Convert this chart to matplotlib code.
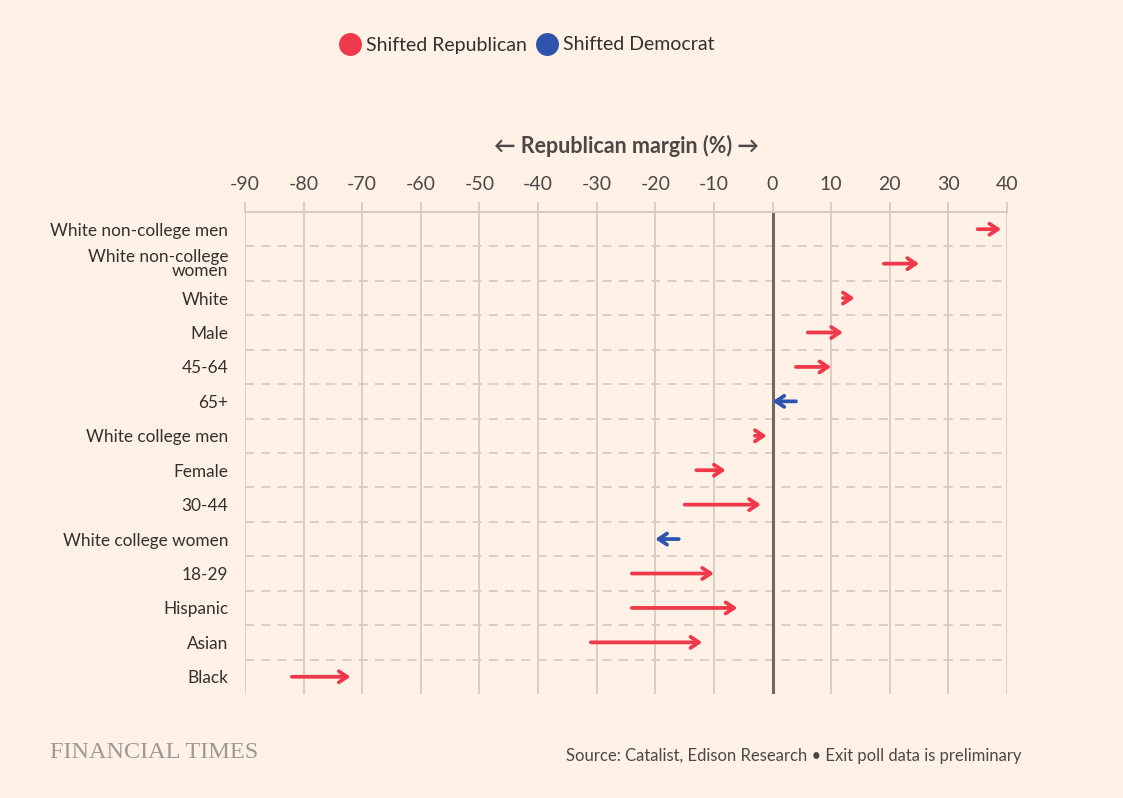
"""
plot.py
Exit poll shift by demographic group (FT style arrow chart).
"""
import matplotlib
matplotlib.use("Agg")
import matplotlib.pyplot as plt
from matplotlib.lines import Line2D

# ── data ──────────────────────────────────────────────────────────────
groups = ["White non-college men", "White non-college\nwomen", "White", "Male",
          "45-64", "65+", "White college men", "Female", "30-44",
          "White college women", "18-29", "Hispanic", "Asian", "Black"]
margin_2020 = [35, 19, 12, 6, 4, 4, -3, -13, -15, -16, -24, -24, -31, -82]
margin_2024 = [39, 25, 14, 12, 10, 0, -1, -8, -2, -20, -10, -6, -12, -72]
x_ticks = list(range(-90, 41, 10))

BG = "#FFF1E5"
RED = "#F0384B"
BLUE = "#2D53AC"
GRID = "#D6CCC0"
TEXT = "#33302E"

plt.rcParams["font.family"] = ["Lato", "DejaVu Sans"]

fig = plt.figure(figsize=(11.23, 7.98), dpi=100, facecolor=BG)
W, H = 1123, 798
ax = fig.add_axes([245 / W, 1 - 694 / H, (1007 - 245) / W, (694 - 212) / H])
ax.set_facecolor(BG)

n = len(groups)
ax.set_xlim(-90, 40)
ax.set_ylim(n - 0.5, -0.5)

# grid: vertical solid, horizontal dashed separators
for x in x_ticks:
    ax.axvline(x, color=GRID, lw=1.3, zorder=1)
ax.axvline(0, color="#6E6864", lw=2.2, zorder=2)
for i in range(n - 1):
    ax.axhline(i + 0.5, color=GRID, lw=1.3, ls=(0, (5, 4)), zorder=1)

# arrows
for i, (a, b) in enumerate(zip(margin_2020, margin_2024)):
    col = RED if b > a else BLUE
    ax.annotate("", xy=(b, i), xytext=(a, i),
                arrowprops=dict(arrowstyle="->,head_length=0.6,head_width=0.4",
                                color=col, lw=2.7, shrinkA=0, shrinkB=0),
                zorder=3)

# axes styling
for s in ["left", "right", "bottom"]:
    ax.spines[s].set_visible(False)
ax.spines["top"].set_color(GRID)
ax.spines["top"].set_linewidth(1.5)
ax.xaxis.tick_top()
ax.set_xticks(x_ticks)
ax.set_xticklabels([str(t) for t in x_ticks])
ax.tick_params(axis="x", length=7.5, width=1.3, color=GRID, pad=6,
               labelsize=14, labelcolor="#4D4845")
ax.set_yticks(range(n))
ax.set_yticklabels(groups, linespacing=0.8)
ax.tick_params(axis="y", length=0, pad=12, labelsize=12.4, labelcolor=TEXT)
ax.xaxis.set_label_position("top")
ax.set_xlabel("\u2190 Republican margin (%) \u2192", fontsize=15.5,
              fontweight="bold", color="#4D4845", labelpad=17,
              family=["Lato", "DejaVu Sans"])

# legend
handles = [Line2D([], [], marker="o", ls="", ms=15.5, color=RED),
           Line2D([], [], marker="o", ls="", ms=15.5, color=BLUE)]
fig.legend(handles, ["Shifted Republican", "Shifted Democrat"],
           loc="center left", bbox_to_anchor=(321 / W, 1 - 45 / H),
           ncol=2, frameon=False, fontsize=14, handletextpad=0.2,
           columnspacing=0.45, labelcolor=TEXT, handlelength=1.2)

# footer
fig.text(50 / W, 1 - 753 / H, "FINANCIAL TIMES", fontsize=17.5,
         family=["Liberation Serif", "DejaVu Serif"], color="#9E9893",
         va="center", ha="left")
fig.text(1022 / W, 1 - 756 / H,
         "Source: Catalist, Edison Research \u2022 Exit poll data is preliminary",
         fontsize=12, color="#4D4845", va="center", ha="right")

fig.savefig("out.png", dpi=100, facecolor=BG)
